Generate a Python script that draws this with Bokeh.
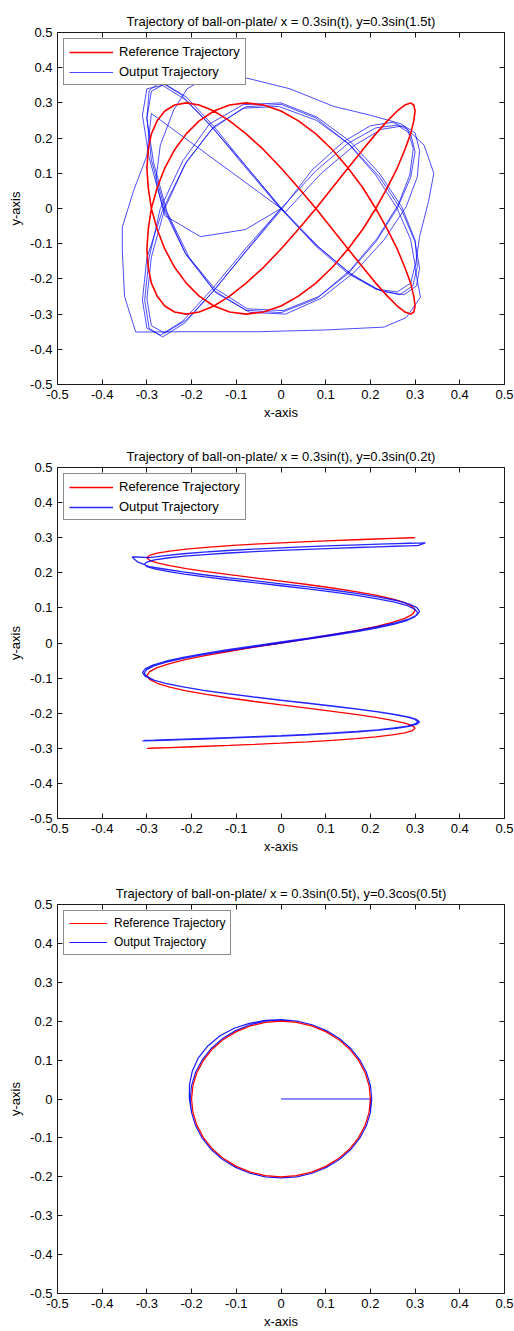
from bokeh.plotting import figure
from bokeh.models import Range1d, FixedTicker, LinearAxis, Legend, LegendItem
from bokeh.layouts import column
from bokeh.embed import file_html
from bokeh.resources import INLINE

FONT = "Liberation Sans"

tick_values = [-0.5, -0.4, -0.3, -0.2, -0.1, 0.0, 0.1, 0.2, 0.3, 0.4, 0.5]
tick_labels = ["-0.5", "-0.4", "-0.3", "-0.2", "-0.1", "0", "0.1", "0.2", "0.3", "0.4", "0.5"]

titles = [
    "Trajectory of ball-on-plate/ x = 0.3sin(t), y=0.3sin(1.5t)",
    "Trajectory of ball-on-plate/ x = 0.3sin(t), y=0.3sin(0.2t)",
    "Trajectory of ball-on-plate/ x = 0.3sin(0.5t), y=0.3cos(0.5t)",
]
series_names = ["Reference Trajectory", "Output Trajectory"]

# ---------------- plot 1 ----------------
p1_ref_x = [0, .039, .078, .115, .15, .183, .212, .238, .26, .277, .29, .297, .3, .297, .29, .277, .26, .238, .212,
            .183, .15, .115, .078, .039, 0, -.039, -.078, -.115, -.15, -.183, -.212, -.238, -.26, -.277, -.29, -.297,
            -.3, -.297, -.29, -.277, -.26, -.238, -.212, -.183, -.15, -.115, -.078, -.039,
            0, .039, .078, .115, .15, .183, .212, .238, .26, .277, .29, .297, .3, .297, .29, .277, .26, .238, .212,
            .183, .15, .115, .078, .039, 0, -.039, -.078, -.115, -.15, -.183, -.212, -.238, -.26, -.277, -.29, -.297,
            -.3, -.297, -.29, -.277, -.26, -.238, -.212, -.183, -.15, -.115, -.078, -.039, 0]
p1_ref_y = [-.115, -.059,
            0, .059, .115, .167, .212, .249, .277, .294, .3, .294, .277, .249, .212, .167, .115, .059,
            0, -.059, -.115, -.167, -.212, -.249, -.277, -.294, -.3, -.294, -.277, -.249, -.212, -.167, -.115, -.059,
            0, .059, .115, .167, .212, .249, .277, .294, .3, .294, .277, .249, .212, .167, .115, .059,
            0, -.059, -.115, -.167, -.212, -.249, -.277, -.294, -.3, -.294, -.277, -.249, -.212, -.167, -.115, -.059,
            0, .059, .115, .167, .212, .249, .277, .294, .3, .294, .277, .249, .212, .167, .115, .059,
            0, -.059, -.115, -.167, -.212, -.249, -.277, -.294, -.3, -.294, -.277, -.249, -.212, -.167, -.115]

p1_out_start_x = [0, -.08, -.18, -.26, -.28, -.27, -.24, -.21, -.17, -.075, .02, .118, .2, .27, .32, .342, .33, .31,
                  .3, .312, .28, .23, .1, -.05, -.2, -.325, -.35, -.355, -.355, -.33, -.3, -.29]
p1_out_start_y = [0, -.06, -.08, -.02, .08, .18, .28, .34, .37, .37, .34, .29, .265, .24, .18, .1, .02, -.08, -.17,
                  -.252, -.31, -.337, -.345, -.35, -.35, -.351, -.25, -.12, -.053, .05, .15, .27]
p1_out_a_x = [0, .078, .15, .212, .26, .29, .3, .29, .26, .212, .15, .078, 0, -.078, -.15, -.212, -.26, -.29, -.3,
              -.29, -.26, -.212, -.15, -.078, 0, .078, .15, .212, .26, .29, .3, .29, .26, .212, .15, .078, 0, -.078,
              -.15, -.212, -.26, -.29, -.3, -.29, -.26, -.212, -.15, -.078, 0]
p1_out_a_y = [0, .107, .185, .229, .237, .212, .161, .088, 0, -.095, -.185, -.257, -.296, -.289, -.233, -.132, 0, .138,
              .257, .333, .354, .317, .233, .12, 0, -.107, -.185, -.229, -.237, -.212, -.161, -.088, 0, .095, .185,
              .257, .296, .289, .233, .132, 0, -.138, -.257, -.333, -.354, -.317, -.233, -.12, 0]
p1_out_b_x = [.01, .09, .165, .225, .275, .3, .31, .305, .28, .23, .165, .09, .01, -.07, -.145, -.205, -.255, -.285,
              -.3, -.295, -.27, -.225, -.16, -.085, -.005, .075, .15, .215, .265, .295, .305, .3, .27, .22, .155, .08,
              0, -.085, -.16, -.22, -.27, -.295, -.305, -.295, -.265, -.215, -.155, -.08, 0]
p1_out_b_y = [-.01, .1, .18, .225, .235, .215, .165, .09, .005, -.09, -.18, -.255, -.3, -.295, -.24, -.14, -.01, .13,
              .255, .335, .36, .325, .24, .125, .005, -.1, -.18, -.23, -.245, -.22, -.165, -.09, .005, .1, .19, .26,
              .3, .295, .24, .135, 0, -.14, -.26, -.34, -.365, -.325, -.24, -.125, -.005]
p1_out_c_x = [0, .07, .14, .2, .25, .283, .296, .288, .262, .215, .155, .085, .005, -.075, -.15, -.215, -.265, -.295,
              -.31, -.3, -.265, -.215, -.15, -.075, .005, .085, .16, .225, .275, .303, .31, .3, .27, .22, .155, .08,
              -.005, -.085, -.155, -.215, -.265, -.3, -.31, -.3, -.27, -.22, -.155, -.08, 0]
p1_out_c_y = [-.005, .11, .19, .235, .245, .225, .17, .095, .01, -.085, -.175, -.25, -.29, -.285, -.225, -.125, .005,
              .145, .265, .34, .35, .31, .225, .115, -.005, -.11, -.19, -.235, -.245, -.22, -.17, -.095, -.005, .09,
              .18, .25, .29, .285, .225, .125, -.005, -.14, -.26, -.34, -.36, -.32, -.23, -.115, 0]

# ---------------- plot 2 ----------------
p2_ref_x = [-.3, -.294, -.277, -.249, -.212, -.167, -.115, -.059, 0, .059, .115, .167, .212, .249, .277, .294,
            .3, .294, .277, .249, .212, .167, .115, .059, 0, -.059, -.115, -.167, -.212, -.249, -.277, -.294,
            -.3, -.294, -.277, -.249, -.212, -.167, -.115, -.059, 0, .059, .115, .167, .212, .249, .277, .294,
            .3, .294, .277, .249, .212, .167, .115, .059, 0, -.059, -.115, -.167, -.212, -.249, -.277, -.294,
            -.3, -.294, -.277, -.249, -.212, -.167, -.115, -.059, 0, .059, .115, .167, .212, .249, .277, .294, .3]
p2_ref_y = [-.3, -.2998, -.2991, -.2979, -.2963, -.2942, -.2917, -.2887, -.2853, -.2815, -.2772, -.2724, -.2673,
            -.2618, -.2558, -.2494, -.2427, -.2356, -.2281, -.2203, -.2121, -.2036, -.1948, -.1857, -.1763, -.1667,
            -.1567, -.1466, -.1362, -.1256, -.1148, -.1038, -.0927, -.0814, -.07, -.0585, -.0469, -.0353, -.0235,
            -.0118, 0, .0118, .0235, .0353, .0469, .0585, .07, .0814, .0927, .1038, .1148, .1256, .1362, .1466,
            .1567, .1667, .1763, .1857, .1948, .2036, .2121, .2203, .2281, .2356, .2427, .2494, .2558, .2618, .2673,
            .2724, .2772, .2815, .2853, .2887, .2917, .2942, .2963, .2979, .2991, .2998, .3]
p2_out_up_x = [-.306, -.3, -.283, -.254, -.216, -.17, -.117, -.06, 0, .06, .117, .17, .216, .254, .283, .3,
               .306, .3, .283, .254, .216, .17, .117, .06, 0, -.06, -.117, -.17, -.216, -.254, -.283, -.3,
               -.306, -.3, -.283, -.254, -.216, -.17, -.117, -.06, 0, .06, .117, .17, .216, .254, .283, .3,
               .306, .3, .283, .254, .216, .17, .117, .06, 0, -.06, -.117, -.17, -.216, -.254, -.283, -.3,
               -.306, -.3, -.283, -.254, -.216, -.17, -.117, -.06, 0, .06, .117, .17, .216, .254, .283, .3, .306]
p2_out_up_y = [-.2775, -.2773, -.2767, -.2756, -.2741, -.2721, -.2698, -.267, -.2639, -.2604, -.2564, -.252, -.2473,
               -.2422, -.2366, -.2307, -.2245, -.2179, -.211, -.2038, -.1962, -.1883, -.1802, -.1718, -.1631, -.1542,
               -.1449, -.1356, -.126, -.1162, -.1062, -.096, -.0857, -.0753, -.0648, -.0541, -.0434, -.0327, -.0217,
               -.0109, 0, .0109, .0217, .0327, .0434, .0541, .0648, .0753, .0857, .096, .1062, .1162, .126, .1356,
               .1449, .1542, .1631, .1718, .1802, .1883, .1962, .2038, .211, .2179, .2245, .2307, .2366, .2422, .2473,
               .252, .2564, .2604, .2639, .267, .2698, .2721, .2741, .2756, .2767, .2773, .2775]
p2_out_down_x = [.323, .304, .287, .258, .219, .173, .119, .061, 0, -.061, -.119, -.173, -.219, -.258, -.295, -.322,
                 -.333, -.322, -.295, -.258, -.219, -.173, -.119, -.061, 0, .061, .119, .173, .219, .258, .287, .304,
                 .31, .304, .287, .258, .219, .173, .119, .061, 0, -.061, -.119, -.173, -.219, -.258, -.287, -.304,
                 -.31, -.304, -.287, -.258, -.219, -.173, -.119, -.061, 0, .061, .119, .173, .219, .258, .287, .304,
                 .31, .304, .287, .258, .219, .173, .119, .061, 0, -.061, -.119, -.173, -.219, -.258, -.287, -.304,
                 -.31]
p2_out_down_y = [.285, .2848, .2842, .283, .2815, .2795, .2772, .2744, .2712, .2676, .2636, .2591, .2543, .2491,
                 .2435, .245, .245, .232, .2174, .2101, .2024, .1944, .1861, .1776, .1687, .1597, .1503, .1408, .131,
                 .1211, .1109, .1006, .0901, .0795, .0688, .058, .0471, .0362, .0251, .0141, .003, -.0081, -.0191,
                 -.0302, -.0411, -.052, -.0628, -.0735, -.0841, -.0946, -.1049, -.1151, -.125, -.1348, -.1443, -.1537,
                 -.1627, -.1716, -.1801, -.1884, -.1964, -.2041, -.2114, -.2185, -.2251, -.2314, -.2375, -.2431,
                 -.2483, -.2531, -.2576, -.2616, -.2652, -.2684, -.2712, -.2735, -.2755, -.277, -.2782, -.2788, -.279]

# ---------------- plot 3 ----------------
p3_ref_x = [0, .0347, .0684, .1, .1286, .1532, .1732, .1879, .197, .2, .197, .1879, .1732, .1532, .1286, .1, .0684,
            .0347, 0, -.0347, -.0684, -.1, -.1286, -.1532, -.1732, -.1879, -.197, -.2, -.197, -.1879, -.1732, -.1532,
            -.1286, -.1, -.0684, -.0347, 0]
p3_ref_y = [.2, .197, .1879, .1732, .1532, .1286, .1, .0684, .0347, 0, -.0347, -.0684, -.1, -.1286, -.1532, -.1732,
            -.1879, -.197, -.2, -.197, -.1879, -.1732, -.1532, -.1286, -.1, -.0684, -.0347, 0, .0347, .0684, .1, .1286,
            .1532, .1732, .1879, .197, .2]
p3_out_start_x = [0]
p3_out_start_y = [0]
p3_out_a_x = [.2, .2, .1908, .1758, .1555, .1305, .1015, .0694, .0352, 0, -.0352, -.0694, -.1015, -.1305, -.1555,
              -.1758, -.1908, -.2, -.205, -.2048, -.1983, -.1845, -.1632, -.1363, -.105, -.0708, -.0356, 0, .0352,
              .0694, .1015, .1305, .1555, .1758, .1908, .2, .203]
p3_out_a_y = [0, -.0352, -.0694, -.1015, -.1305, -.1555, -.1758, -.1908, -.2, -.203, -.2, -.1908, -.1758, -.1555,
              -.1305, -.1015, -.0694, -.0352, 0, .0361, .0722, .1065, .1369, .1624, .1819, .1945, .2019, .204, .2,
              .1908, .1758, .1555, .1305, .1015, .0694, .0352, 0]
p3_out_b_x = [.203, .2, .1908, .1758, .1555, .1305, .1015, .0694, .0352, 0, -.0352, -.0694, -.1015, -.1305, -.1555,
              -.1758, -.1908, -.2, -.203, -.2, -.1908, -.1758, -.1555, -.1305, -.1015, -.0694, -.0352, 0, .0352,
              .0694, .1015, .1305, .1555, .1758, .1908, .2, .203]
p3_out_b_y = [0, -.0352, -.0694, -.1015, -.1305, -.1555, -.1758, -.1908, -.2, -.203, -.2, -.1908, -.1758, -.1555,
              -.1305, -.1015, -.0694, -.0352, 0, .0352, .0694, .1015, .1305, .1555, .1758, .1908, .2, .203, .2,
              .1908, .1758, .1555, .1305, .1015, .0694, .0352, 0]

p1_out_x = p1_out_start_x + p1_out_a_x + p1_out_b_x + p1_out_c_x
p1_out_y = p1_out_start_y + p1_out_a_y + p1_out_b_y + p1_out_c_y
p2_out_x = p2_out_up_x + p2_out_down_x
p2_out_y = p2_out_up_y + p2_out_down_y
p3_out_x = p3_out_start_x + p3_out_a_x + p3_out_b_x
p3_out_y = p3_out_start_y + p3_out_a_y + p3_out_b_y

overrides = {v: s for v, s in zip(tick_values, tick_labels)}


def style_axis(ax, labels=True, label_standoff=5, axis_label_standoff=3):
    ax.ticker = FixedTicker(ticks=tick_values)
    ax.major_label_overrides = overrides
    ax.major_tick_in = 5
    ax.major_tick_out = 0
    ax.minor_tick_in = 0
    ax.minor_tick_out = 0
    ax.axis_line_color = "#1a1a1a"
    ax.major_tick_line_color = "#1a1a1a"
    if labels:
        ax.major_label_text_font = FONT
        ax.major_label_text_font_size = "13px"
        ax.major_label_text_color = "black"
        ax.major_label_standoff = label_standoff
        ax.axis_label_text_font = FONT
        ax.axis_label_text_font_size = "13px"
        ax.axis_label_text_font_style = "normal"
        ax.axis_label_text_color = "black"
        ax.axis_label_standoff = axis_label_standoff
    else:
        ax.major_label_text_font_size = "0px"
        ax.major_label_standoff = 0


def make_fig(title, height, border_top, border_bottom):
    p = figure(width=514, height=height, x_range=Range1d(-0.5, 0.5), y_range=Range1d(-0.5, 0.5),
               output_backend="svg", toolbar_location=None, title=title,
               x_axis_label="x-axis", y_axis_label="y-axis",
               min_border_left=57, min_border_right=10, min_border_top=border_top,
               min_border_bottom=border_bottom)
    p.xgrid.visible = False
    p.ygrid.visible = False
    p.outline_line_color = None
    p.background_fill_color = "white"
    p.border_fill_color = "white"
    p.title.align = "center"
    p.title.text_font = FONT
    p.title.text_font_size = "13px"
    p.title.text_font_style = "normal"
    p.title.text_color = "black"
    p.title.standoff = 8
    style_axis(p.xaxis[0], True, 5, 3)
    style_axis(p.yaxis[0], True, 5, 4)
    top = LinearAxis()
    right = LinearAxis()
    style_axis(top, False)
    style_axis(right, False)
    p.add_layout(top, "above")
    p.add_layout(right, "right")
    return p


def add_legend(p, r_ref, r_out, font_size, glyph_w, glyph_h, spacing, standoff):
    lg = Legend(items=[LegendItem(label=series_names[0], renderers=[r_ref]),
                       LegendItem(label=series_names[1], renderers=[r_out])])
    lg.location = "top_left"
    lg.margin = 6
    lg.padding = 5
    lg.spacing = spacing
    lg.glyph_width = glyph_w
    lg.glyph_height = glyph_h
    lg.label_height = glyph_h
    lg.label_standoff = standoff
    lg.label_text_font = FONT
    lg.label_text_font_size = font_size
    lg.label_text_color = "black"
    lg.border_line_color = "#1a1a1a"
    lg.border_line_width = 1
    lg.background_fill_color = "white"
    lg.background_fill_alpha = 1.0
    p.add_layout(lg, "center")


p1 = make_fig(titles[0], 436, 32, 52)
o1 = p1.line(p1_out_x, p1_out_y, line_color="blue", line_width=1, line_alpha=0.7)
r1 = p1.line(p1_ref_x, p1_ref_y, line_color="red", line_width=1.6)
add_legend(p1, r1, o1, "13px", 44, 14, 5, 6)

p2 = make_fig(titles[1], 437, 31, 55)
r2 = p2.line(p2_ref_x, p2_ref_y, line_color="red", line_width=1.3)
o2 = p2.line(p2_out_x, p2_out_y, line_color="blue", line_width=1.3, line_alpha=0.85)
add_legend(p2, r2, o2, "13px", 44, 14, 5, 6)

p3 = make_fig(titles[2], 458, 31, 37)
o3 = p3.line(p3_out_x, p3_out_y, line_color="blue", line_width=1.2, line_alpha=0.9)
r3 = p3.line(p3_ref_x, p3_ref_y, line_color="red", line_width=1.2)
add_legend(p3, r3, o3, "12px", 38, 12, 5, 7)

layout = column(p1, p2, p3)
open("out.html", "w").write(file_html(layout, INLINE))
